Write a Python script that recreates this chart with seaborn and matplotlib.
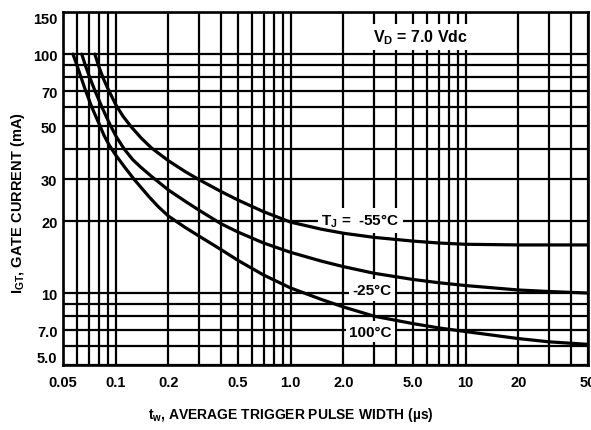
import matplotlib
matplotlib.use('Agg')
import matplotlib.pyplot as plt
import matplotlib.ticker as mticker
import seaborn as sns
import pandas as pd

# values (tw in us, IGT in mA)
tw_m55 = [0.076, 0.08, 0.085, 0.09, 0.1, 0.11, 0.123, 0.14, 0.16, 0.2, 0.25, 0.3, 0.4, 0.5, 0.7,
          1.0, 1.5, 2.0, 3.0, 5.0, 7.0, 10, 20, 50]
igt_m55 = [100, 89, 79, 72, 61.5, 55, 49.5, 44.5, 40.5, 35.8, 32.2, 29.8, 26.6, 24.5, 21.9,
           19.8, 18.5, 17.8, 17.1, 16.5, 16.2, 16.0, 15.9, 15.9]

tw_25 = [0.064, 0.067, 0.071, 0.076, 0.083, 0.093, 0.101, 0.112, 0.125, 0.138, 0.16, 0.2, 0.25, 0.3,
         0.4, 0.5, 0.7, 1.0, 1.5, 2.0, 3.0, 5.0, 7.0, 10, 20, 30, 50]
igt_25 = [100, 90, 80, 70.5, 60.5, 50.5, 45, 40, 36.2, 33.8, 30.8, 27, 24.2, 22.2,
          19.5, 18.0, 16.2, 14.8, 13.6, 12.9, 12.1, 11.4, 11.05, 10.75, 10.3, 10.15, 10.0]

tw_100 = [0.057, 0.06, 0.063, 0.067, 0.073, 0.08, 0.086, 0.092, 0.1, 0.112, 0.127, 0.14, 0.155, 0.175,
          0.2, 0.25, 0.3, 0.4, 0.5, 0.7, 1.0, 1.5, 2.0, 3.0, 5.0, 7.0, 10, 20, 30, 50]
igt_100 = [100, 90, 81, 71, 60, 51.5, 45.5, 41.5, 37.8, 33.8, 30, 27.6, 25.3, 23.0,
           21.0, 18.8, 17.3, 15.2, 13.7, 11.9, 10.5, 9.4, 8.75, 8.0, 7.45, 7.15, 6.9, 6.45, 6.25, 6.1]

x_labeled = [0.05, 0.1, 0.2, 0.5, 1.0, 2.0, 5.0, 10, 20, 50]
x_labels = ['0.05', '0.1', '0.2', '0.5', '1.0', '2.0', '5.0', '10', '20', '50']
x_grid = [0.06, 0.07, 0.08, 0.09, 0.3, 0.4, 0.6, 0.7, 0.8, 0.9, 3, 4, 6, 7, 8, 9, 30, 40]
y_labeled = [5, 7, 10, 20, 30, 50, 70, 100, 150]
y_labels = ['5.0', '7.0', '10', '20', '30', '50', '70', '100', '150']
y_grid = [6, 8, 9, 40, 60, 80, 90]

df = pd.concat([
    pd.DataFrame({'tw': tw_m55, 'igt': igt_m55, 'tj': '-55'}),
    pd.DataFrame({'tw': tw_25, 'igt': igt_25, 'tj': '25'}),
    pd.DataFrame({'tw': tw_100, 'igt': igt_100, 'tj': '100'}),
])

sns.set_style('white')
plt.rcParams['font.family'] = ['Liberation Sans', 'DejaVu Sans']
plt.rcParams['font.weight'] = 'bold'
plt.rcParams['text.color'] = 'black'
plt.rcParams['xtick.color'] = 'black'
plt.rcParams['ytick.color'] = 'black'
plt.rcParams['mathtext.fontset'] = 'custom'
plt.rcParams['mathtext.rm'] = 'Liberation Sans:bold'
plt.rcParams['mathtext.it'] = 'Liberation Sans:bold'
plt.rcParams['mathtext.bf'] = 'Liberation Sans:bold'
plt.rcParams['mathtext.default'] = 'regular'

fig = plt.figure(figsize=(5.91, 4.31), dpi=100)
ax = fig.add_axes([63 / 591, 1 - 366 / 431, 525 / 591, 353 / 431])
ax.set_xscale('log')
ax.set_yscale('log')

sns.lineplot(data=df, x='tw', y='igt', hue='tj', palette=['black'] * 3,
             estimator=None, sort=True, linewidth=2.3, legend=False, ax=ax, zorder=3)

ax.set_xlim(0.05, 50)
ax.set_ylim(5, 150)
ax.xaxis.set_major_locator(mticker.FixedLocator(x_labeled))
ax.xaxis.set_major_formatter(mticker.FixedFormatter(x_labels))
ax.xaxis.set_minor_locator(mticker.FixedLocator(x_grid))
ax.xaxis.set_minor_formatter(mticker.NullFormatter())
ax.yaxis.set_major_locator(mticker.FixedLocator(y_labeled))
ax.yaxis.set_major_formatter(mticker.FixedFormatter(y_labels))
ax.yaxis.set_minor_locator(mticker.FixedLocator(y_grid))
ax.yaxis.set_minor_formatter(mticker.NullFormatter())
ax.grid(True, which='both', color='black', linewidth=1.6)
ax.tick_params(which='both', length=0, labelsize=10.5)
ax.tick_params(axis='x', pad=7)
ax.tick_params(axis='y', pad=4)
for s in ax.spines.values():
    s.set_color('black')
    s.set_linewidth(1.9)
ax.set_xlabel('')
ax.set_ylabel('')

fig.canvas.draw()
ylab = ax.get_yticklabels()
ylab[0].set_verticalalignment('bottom')
ylab[-1].set_verticalalignment('top')

box = dict(facecolor='white', edgecolor='none', pad=2.5)
ax.text(5.5, 118, r'$V_D$ = 7.0 Vdc', ha='center', va='center', fontsize=11.5, bbox=box, zorder=2.5)
ax.text(2.5, 20.1, r'$T_J$ =  -55°C', ha='center', va='center', fontsize=11, bbox=box, zorder=2.5)
ax.text(2.9, 10.3, '-25°C', ha='center', va='center', fontsize=11, bbox=box, zorder=2.5)
ax.text(2.85, 6.9, '100°C', ha='center', va='center', fontsize=11, bbox=box, zorder=2.5)

fig.text(18 / 591, 1 - 203 / 431, r'$I_{GT}$, GATE CURRENT (mA)', rotation=90,
         ha='center', va='center', fontsize=10.5)
fig.text(291 / 591, 1 - 415 / 431, r'$t_w$, AVERAGE TRIGGER PULSE WIDTH (µs)',
         ha='center', va='center', fontsize=10)

fig.savefig('out.png', dpi=100)
